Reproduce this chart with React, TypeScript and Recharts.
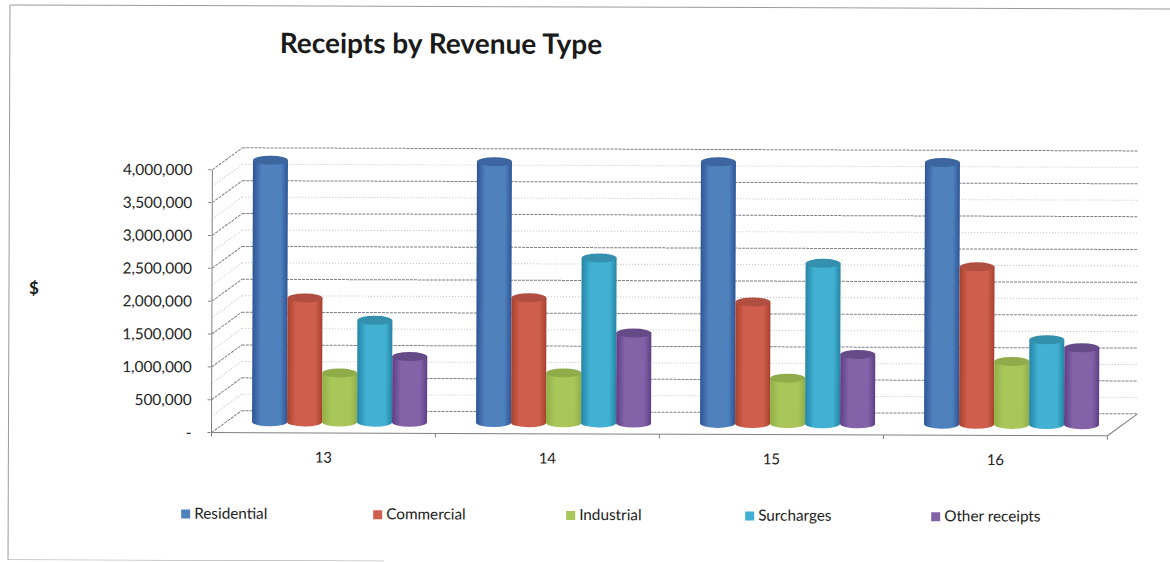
import { Bar, BarChart, Legend, ReferenceLine, XAxis, YAxis } from "recharts";

const years = ["13", "14", "15", "16"];
const residential = [3980000, 3970000, 3980000, 3980000];
const commercial = [1886000, 1900000, 1850000, 2395000];
const industrial = [745000, 760000, 692000, 958000];
const surcharges = [1550000, 2510000, 2440000, 1290000];
const otherReceipts = [1000000, 1370000, 1057000, 1170000];

const majorTicks = [0, 500000, 1000000, 1500000, 2000000, 2500000, 3000000, 3500000, 4000000];
const minorTicks = [250000, 750000, 1250000, 1750000, 2250000, 2750000, 3250000, 3750000];

const seriesList = [
  { key: "residential", name: "Residential", side: "#2f5597", mid: "#4f81bd", cap: "#3d659f", legendX: 182 },
  { key: "commercial", name: "Commercial", side: "#a8402f", mid: "#cf5f4c", cap: "#b04f40", legendX: 374 },
  { key: "industrial", name: "Industrial", side: "#8fae45", mid: "#a9c65a", cap: "#8fab4a", legendX: 567 },
  { key: "surcharges", name: "Surcharges", side: "#2585a5", mid: "#41b0d2", cap: "#3590ad", legendX: 746 },
  { key: "otherReceipts", name: "Other receipts", side: "#5d3f85", mid: "#8462a8", cap: "#654a88", legendX: 932 },
];

const tableData = years.map((year, i) => ({
  year,
  residential: residential[i],
  commercial: commercial[i],
  industrial: industrial[i],
  surcharges: surcharges[i],
  otherReceipts: otherReceipts[i],
}));

// half of the 3D depth: the bars stand on the middle plane of the box
const DEPTH_X = 15;
const DEPTH_Y = 11;
const CAP_RY = 4.5;
const FONT = "Lato, 'Open Sans', sans-serif";
const MAJOR = "#7f7f88";
const MINOR = "#bfbfc4";
const FRAME = "#9a9aa0";

const formatTick = (v: number) => (v === 0 ? "-" : v.toLocaleString("en-US"));

function Cylinder(props: any) {
  const { x, y, width, height, gradientId, cap } = props;
  const rx = width / 2;
  const body = `M${x},${y} L${x},${y + height} A${rx},${CAP_RY} 0 0 0 ${x + width},${y + height} L${x + width},${y} Z`;
  return (
    <g>
      <path d={body} fill={`url(#${gradientId})`} />
      <ellipse cx={x + rx} cy={y} rx={rx} ry={CAP_RY} fill={cap} />
    </g>
  );
}

function majorLine(props: any) {
  const { x1, x2, y1 } = props;
  return (
    <g fill="none" stroke={MAJOR} strokeDasharray="3 1">
      <line x1={x1 + DEPTH_X} x2={x2 + DEPTH_X} y1={y1 - DEPTH_Y} y2={y1 - DEPTH_Y} />
      <line x1={x1 - DEPTH_X} x2={x1 + DEPTH_X} y1={y1 + DEPTH_Y} y2={y1 - DEPTH_Y} />
      <line x1={x1 - DEPTH_X - 4} x2={x1 - DEPTH_X} y1={y1 + DEPTH_Y} y2={y1 + DEPTH_Y} />
    </g>
  );
}

function minorLine(props: any) {
  const { x1, x2, y1 } = props;
  return (
    <g fill="none" stroke={MINOR} strokeDasharray="1 2">
      <line x1={x1 + DEPTH_X} x2={x2 + DEPTH_X} y1={y1 - DEPTH_Y} y2={y1 - DEPTH_Y} />
      <line x1={x1 - DEPTH_X} x2={x1 + DEPTH_X} y1={y1 + DEPTH_Y} y2={y1 - DEPTH_Y} />
    </g>
  );
}

function floorLine(props: any) {
  const { x1, x2, y1 } = props;
  return (
    <g fill="none" stroke={MAJOR}>
      <line x1={x1 - DEPTH_X} x2={x2 - DEPTH_X} y1={y1 + DEPTH_Y} y2={y1 + DEPTH_Y} />
      <line x1={x2 - DEPTH_X} x2={x2 + DEPTH_X} y1={y1 + DEPTH_Y} y2={y1 - DEPTH_Y} />
      <line x1={x2 - DEPTH_X} x2={x2 - DEPTH_X} y1={y1 + DEPTH_Y} y2={y1 + DEPTH_Y + 4} />
    </g>
  );
}

// floor tick at the start of each category band, plus the value axis on the first
function bandLine(props: any) {
  const { x1, y1, y2, first } = props;
  const top = Math.min(y1, y2);
  const bottom = Math.max(y1, y2);
  return (
    <g fill="none" stroke={MAJOR}>
      <line x1={x1 - DEPTH_X} x2={x1 - DEPTH_X} y1={bottom + DEPTH_Y} y2={bottom + DEPTH_Y + 4} />
      {first && <line x1={x1 - DEPTH_X} x2={x1 - DEPTH_X} y1={top + DEPTH_Y} y2={bottom + DEPTH_Y} />}
    </g>
  );
}

function LegendRow() {
  return (
    <div style={{ position: "relative", height: 20, fontFamily: FONT, fontSize: 15.3, color: "#222" }}>
      {seriesList.map((s) => (
        <div key={s.key} style={{ position: "absolute", left: s.legendX, top: 0, whiteSpace: "nowrap", lineHeight: "20px" }}>
          <span style={{ display: "inline-block", width: 9, height: 9, background: s.mid, marginRight: 4 }} />
          {s.name}
        </div>
      ))}
    </div>
  );
}

export default function App() {
  return (
    <div style={{ position: "relative", width: 1170, height: 562, overflow: "hidden", background: "#fff" }}>
      <style>{"html, body { margin: 0; padding: 0; }"}</style>
      <div style={{ position: "absolute", left: 0, top: 0, width: 1170, height: 562, transform: "rotate(0.2deg)" }}>
        <BarChart
          width={1170}
          height={562}
          data={tableData}
          barCategoryGap="11.4%"
          barGap={0}
          margin={{ top: 160, right: 47, bottom: 85, left: 0 }}
        >
          <defs>
            {seriesList.map((s) => (
              <linearGradient key={s.key} id={`cyl-${s.key}`} x1="0" x2="1" y1="0" y2="0">
                <stop offset="0%" stopColor={s.side} />
                <stop offset="25%" stopColor={s.mid} />
                <stop offset="80%" stopColor={s.mid} />
                <stop offset="100%" stopColor={s.side} />
              </linearGradient>
            ))}
          </defs>
          {/* frame: open on the right, bottom edge stops partway */}
          <g stroke={FRAME} fill="none">
            <line x1={9} y1={7} x2={1170} y2={7} />
            <line x1={9} y1={7} x2={9} y2={562} />
            <line x1={9} y1={562} x2={385} y2={562} />
          </g>
          <text x={279} y={54} fontFamily={FONT} fontSize={28} fontWeight={700} fill="#1a1a1a">
            Receipts by Revenue Type
          </text>
          <text x={29} y={296} fontFamily={FONT} fontSize={17} fontWeight={700} fill="#1a1a1a">
            $
          </text>
          <XAxis
            dataKey="year"
            axisLine={false}
            tickLine={false}
            tickMargin={24}
            tick={{ fill: "#222", fontFamily: FONT, fontSize: 15, dx: -15 }}
          />
          <YAxis
            width={227}
            domain={[0, 4000000]}
            ticks={majorTicks}
            axisLine={false}
            tickLine={false}
            tickFormatter={formatTick}
            tick={{ fill: "#222", fontFamily: FONT, fontSize: 15.4, dx: -27, dy: 11 }}
          />
          {minorTicks.map((v) => (
            <ReferenceLine key={v} y={v} shape={minorLine} zIndex={-60} />
          ))}
          {majorTicks.map((v) => (
            <ReferenceLine key={v} y={v} shape={majorLine} zIndex={-60} />
          ))}
          <ReferenceLine y={0} shape={floorLine} zIndex={-60} />
          {years.map((year, i) => (
            <ReferenceLine
              key={year}
              x={year}
              position="start"
              shape={(p: any) => bandLine({ ...p, first: i === 0 })}
              zIndex={-60}
            />
          ))}
          {seriesList.map((s) => (
            <Bar
              key={s.key}
              dataKey={s.key}
              name={s.name}
              isAnimationActive={false}
              shape={(p: any) => <Cylinder {...p} gradientId={`cyl-${s.key}`} cap={s.cap} />}
            />
          ))}
          <Legend
            verticalAlign="bottom"
            content={<LegendRow />}
            wrapperStyle={{ left: 0, width: 1170, top: 504 }}
          />
        </BarChart>
      </div>
    </div>
  );
}
